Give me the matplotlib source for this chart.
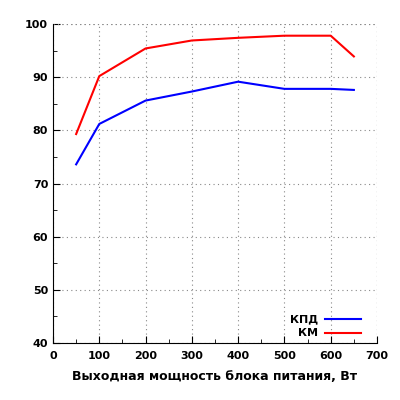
import matplotlib.pyplot as plt
from matplotlib.ticker import MultipleLocator

# данные
power = [50, 100, 200, 300, 400, 500, 600, 650]
kpd = [73.6, 81.2, 85.6, 87.3, 89.15, 87.8, 87.8, 87.6]
km = [79.3, 90.2, 95.4, 96.9, 97.4, 97.8, 97.8, 93.9]

plt.rcParams['font.family'] = 'DejaVu Sans'
plt.rcParams['font.weight'] = 'bold'

fig = plt.figure(figsize=(4, 4), dpi=100)
ax = fig.add_axes([0.1325, 0.1425, 0.81, 0.7975])

ax.plot(power, kpd, color='#0000ff', lw=1.5, label='КПД')
ax.plot(power, km, color='#ff0000', lw=1.5, label='КМ')

ax.set_xlim(0, 700)
ax.set_ylim(40, 100)
ax.xaxis.set_major_locator(MultipleLocator(100))
ax.xaxis.set_minor_locator(MultipleLocator(50))
ax.yaxis.set_major_locator(MultipleLocator(10))
ax.yaxis.set_minor_locator(MultipleLocator(5))
ax.tick_params(which='both', direction='in', labelsize=8)
ax.tick_params(which='major', length=5)
ax.tick_params(which='minor', length=3)
ax.tick_params(axis='x', pad=6)

ax.grid(True, which='major', color='#888888', linestyle=(0, (1, 3)), lw=0.8)
ax.spines['top'].set_visible(False)
ax.spines['right'].set_visible(False)
ax.axvline(700, color='#888888', linestyle=(0, (1, 3)), lw=0.8)
ax.axhline(100, color='#888888', linestyle=(0, (1, 3)), lw=0.8)

ax.set_xlabel('Выходная мощность блока питания, Вт', fontsize=9, fontweight='bold', labelpad=6)

leg = ax.legend(loc='lower right', bbox_to_anchor=(0.98, -0.017), frameon=False, markerfirst=False,
                fontsize=8, handlelength=3.2, handletextpad=0.6, labelspacing=0.35)
for t in leg.get_texts():
    t.set_ha('right')

fig.savefig('out.png', dpi=100)
